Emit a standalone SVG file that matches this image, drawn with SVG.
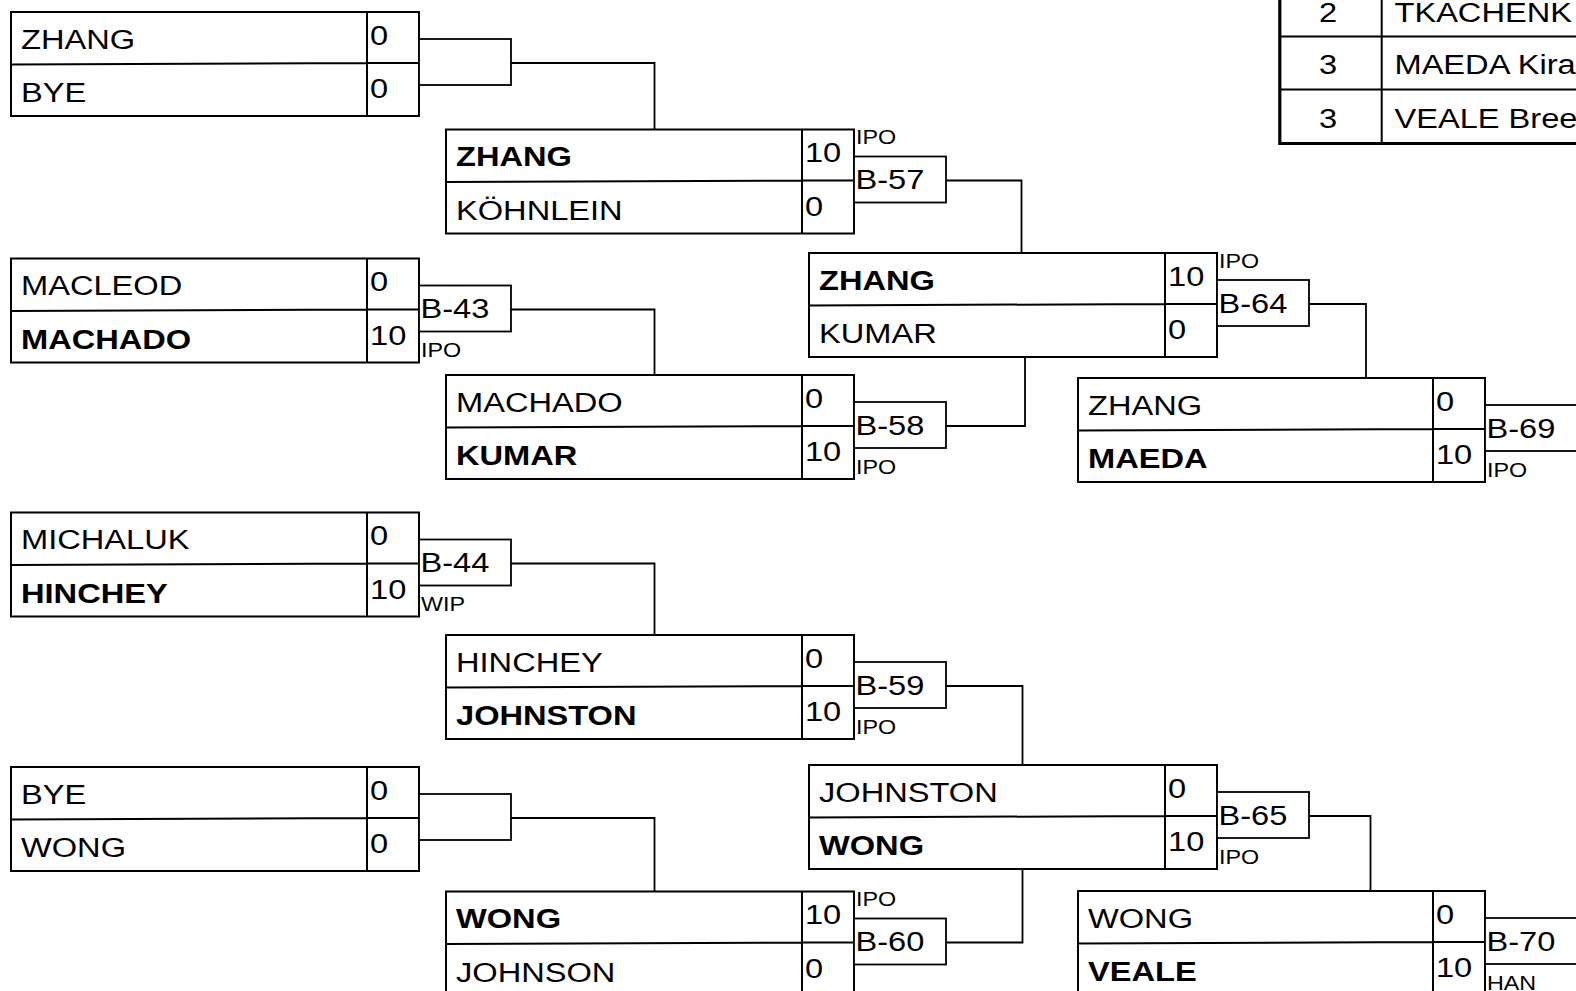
<svg xmlns="http://www.w3.org/2000/svg" width="1576" height="991" viewBox="0 0 1576 991">
<style>
.bx{fill:#fff;stroke:#000;stroke-width:2}
.ln{fill:none;stroke:#000;stroke-width:2}
.mb{fill:#fff;stroke:#000;stroke-width:1.8}
.cn{fill:none;stroke:#000;stroke-width:1.8}
text{font-family:"Liberation Sans",Arial,sans-serif;fill:#000;font-size:28px}
.b{font-weight:bold}
.l{font-size:20px}
.c{text-anchor:middle}
</style>
<rect width="1576" height="991" fill="#fff"/>
<g id="connectors">
<path class="cn" d="M511 63H654.5V129.5"/>
<path class="cn" d="M511 309.5H654.5V375"/>
<path class="cn" d="M511 563.5H654.5V635"/>
<path class="cn" d="M511 818H654.5V891.5"/>
<path class="cn" d="M946 180.5H1021.5V253"/>
<path class="cn" d="M946 426H1025V357"/>
<path class="cn" d="M946 686H1022.5V765"/>
<path class="cn" d="M946 942.5H1022.5V869"/>
<path class="cn" d="M1309 304H1366V378"/>
<path class="cn" d="M1309 816H1370.5V891"/>
</g>
<g id="r1m1">
<rect class="bx" x="11" y="12" width="408" height="104"/>
<path class="ln" d="M367 12V116M11 64.5L367 63H419"/>
<rect class="mb" x="419" y="39" width="92" height="46"/>
<g transform="scale(1.165 1)"><text x="18.03" y="49">ZHANG</text><text x="18.03" y="102.5">BYE</text><text x="317.6" y="45">0</text><text x="317.6" y="98.5">0</text></g>
</g>
<g id="r1m2">
<rect class="bx" x="11" y="258.5" width="408" height="104"/>
<path class="ln" d="M367 258.5V362.5M11 311L367 309.5H419"/>
<rect class="mb" x="419" y="285.5" width="92" height="46"/>
<g transform="scale(1.165 1)"><text x="18.03" y="295.5">MACLEOD</text><text class="b" x="18.03" y="349">MACHADO</text><text x="317.6" y="291.5">0</text><text x="317.6" y="345">10</text><text x="360.94" y="318.5">B-43</text><text class="l" x="361.37" y="357.5">IPO</text></g>
</g>
<g id="r1m3">
<rect class="bx" x="11" y="512.5" width="408" height="104"/>
<path class="ln" d="M367 512.5V616.5M11 565L367 563.5H419"/>
<rect class="mb" x="419" y="539.5" width="92" height="46"/>
<g transform="scale(1.165 1)"><text x="18.03" y="549.5">MICHALUK</text><text class="b" x="18.03" y="603">HINCHEY</text><text x="317.6" y="545.5">0</text><text x="317.6" y="599">10</text><text x="360.94" y="572.5">B-44</text><text class="l" x="361.37" y="611.5">WIP</text></g>
</g>
<g id="r1m4">
<rect class="bx" x="11" y="767" width="408" height="104"/>
<path class="ln" d="M367 767V871M11 819.5L367 818H419"/>
<rect class="mb" x="419" y="794" width="92" height="46"/>
<g transform="scale(1.165 1)"><text x="18.03" y="804">BYE</text><text x="18.03" y="857.5">WONG</text><text x="317.6" y="800">0</text><text x="317.6" y="853.5">0</text></g>
</g>
<g id="r2m1">
<rect class="bx" x="446" y="129.5" width="408" height="104"/>
<path class="ln" d="M802 129.5V233.5M446 182L802 180.5H854"/>
<rect class="mb" x="854" y="156.5" width="92" height="46"/>
<g transform="scale(1.165 1)"><text class="b" x="391.42" y="166.5">ZHANG</text><text x="391.42" y="220">KÖHNLEIN</text><text x="690.99" y="162.5">10</text><text x="690.99" y="216">0</text><text x="734.33" y="189.5">B-57</text><text class="l" x="734.76" y="144.5">IPO</text></g>
</g>
<g id="r2m2">
<rect class="bx" x="446" y="375" width="408" height="104"/>
<path class="ln" d="M802 375V479M446 427.5L802 426H854"/>
<rect class="mb" x="854" y="402" width="92" height="46"/>
<g transform="scale(1.165 1)"><text x="391.42" y="412">MACHADO</text><text class="b" x="391.42" y="465.5">KUMAR</text><text x="690.99" y="408">0</text><text x="690.99" y="461.5">10</text><text x="734.33" y="435">B-58</text><text class="l" x="734.76" y="474">IPO</text></g>
</g>
<g id="r2m3">
<rect class="bx" x="446" y="635" width="408" height="104"/>
<path class="ln" d="M802 635V739M446 687.5L802 686H854"/>
<rect class="mb" x="854" y="662" width="92" height="46"/>
<g transform="scale(1.165 1)"><text x="391.42" y="672">HINCHEY</text><text class="b" x="391.42" y="725.5">JOHNSTON</text><text x="690.99" y="668">0</text><text x="690.99" y="721.5">10</text><text x="734.33" y="695">B-59</text><text class="l" x="734.76" y="734">IPO</text></g>
</g>
<g id="r2m4">
<rect class="bx" x="446" y="891.5" width="408" height="104"/>
<path class="ln" d="M802 891.5V995.5M446 944L802 942.5H854"/>
<rect class="mb" x="854" y="918.5" width="92" height="46"/>
<g transform="scale(1.165 1)"><text class="b" x="391.42" y="928.5">WONG</text><text x="391.42" y="982">JOHNSON</text><text x="690.99" y="924.5">10</text><text x="690.99" y="978">0</text><text x="734.33" y="951.5">B-60</text><text class="l" x="734.76" y="906.5">IPO</text></g>
</g>
<g id="r3m1">
<rect class="bx" x="809" y="253" width="408" height="104"/>
<path class="ln" d="M1165 253V357M809 305.5L1165 304H1217"/>
<rect class="mb" x="1217" y="280" width="92" height="46"/>
<g transform="scale(1.165 1)"><text class="b" x="703" y="290">ZHANG</text><text x="703" y="343.5">KUMAR</text><text x="1002.58" y="286">10</text><text x="1002.58" y="339.5">0</text><text x="1045.92" y="313">B-64</text><text class="l" x="1046.35" y="268">IPO</text></g>
</g>
<g id="r3m2">
<rect class="bx" x="809" y="765" width="408" height="104"/>
<path class="ln" d="M1165 765V869M809 817.5L1165 816H1217"/>
<rect class="mb" x="1217" y="792" width="92" height="46"/>
<g transform="scale(1.165 1)"><text x="703" y="802">JOHNSTON</text><text class="b" x="703" y="855.5">WONG</text><text x="1002.58" y="798">0</text><text x="1002.58" y="851.5">10</text><text x="1045.92" y="825">B-65</text><text class="l" x="1046.35" y="864">IPO</text></g>
</g>
<g id="r4m1">
<rect class="bx" x="1078" y="378" width="407" height="104"/>
<path class="ln" d="M1433 378V482M1078 430.5L1433 429H1485"/>
<rect class="mb" x="1485" y="405" width="92" height="46"/>
<g transform="scale(1.165 1)"><text x="933.91" y="415">ZHANG</text><text class="b" x="933.91" y="468.5">MAEDA</text><text x="1232.62" y="411">0</text><text x="1232.62" y="464.5">10</text><text x="1275.97" y="438">B-69</text><text class="l" x="1276.39" y="477">IPO</text></g>
</g>
<g id="r4m2">
<rect class="bx" x="1078" y="891" width="407" height="104"/>
<path class="ln" d="M1433 891V995M1078 943.5L1433 942H1485"/>
<rect class="mb" x="1485" y="918" width="92" height="46"/>
<g transform="scale(1.165 1)"><text x="933.91" y="928">WONG</text><text class="b" x="933.91" y="981.5">VEALE</text><text x="1232.62" y="924">0</text><text x="1232.62" y="977.5">10</text><text x="1275.97" y="951">B-70</text><text class="l" x="1276.39" y="990">HAN</text></g>
</g>
<g id="standings">
<path fill="none" stroke="#000" stroke-width="2" d="M1279 36.5H1580M1279 89.5H1580M1381.7 -5V143"/>
<path fill="none" stroke="#000" stroke-width="3.2" d="M1279.8 -5V143.5H1580"/>
<g transform="scale(1.165 1)"><text class="c" x="1139.91" y="21.5">2</text><text x="1196.99" y="21.5">TKACHENK</text><text class="c" x="1139.91" y="74">3</text><text x="1196.99" y="74">MAEDA Kira</text><text class="c" x="1139.91" y="128.3">3</text><text x="1196.99" y="128.3">VEALE Bree</text></g>
</g>
</svg>
